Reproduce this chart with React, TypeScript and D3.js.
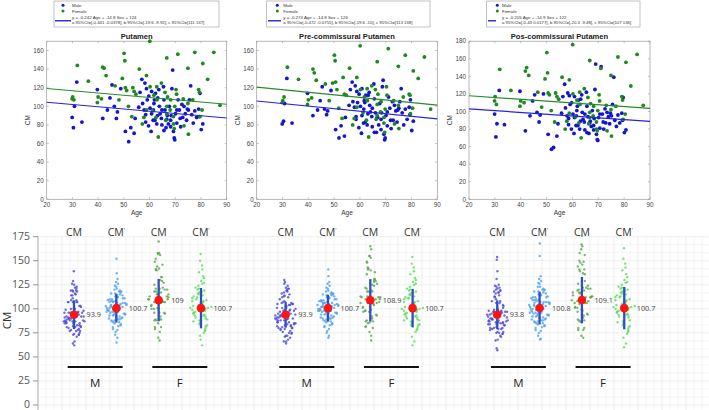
import React from 'react';
import * as d3 from 'd3';

const W = 709;
const H = 410;

// ---- regression panels -------------------------------------------------
const regionTitles = ['Putamen', 'Pre-commissural Putamen', 'Pos-commissural Putamen'];
const slopes = [-0.242, -0.274, -0.205];
const sexCoefs = [-14.8, -14.8, -14.9];
const intercepts = [124, 126, 122];
const ciLines = [
  'a 95%CI=[-0.441 -0.0378], b 95%CI=[-19.6 -9.92], c 95%CI=[111 137]',
  'a 95%CI=[-0.472 -0.0755], b 95%CI=[-19.6 -10], c 95%CI=[113 138]',
  'a 95%CI=[-0.43 0.0177], b 95%CI=[-20.3 -9.48], c 95%CI=[107 136]',
];
const yLimits = [170, 170, 180];
const ageTicks = [20, 30, 40, 50, 60, 70, 80, 90];

const maleAge = [
  29.9, 30.4, 30.8, 31.7, 33.7, 39.7, 41.8, 43.6, 44.6, 45.4,
  46.3, 47.1, 47.5, 48.8, 50.6, 51.9, 52.7, 54.0, 54.4, 55.8,
  56.3, 57.0, 57.3, 58.2, 58.8, 59.1, 59.7, 60.2, 60.8, 61.5,
  61.7, 62.1, 62.8, 63.2, 63.8, 64.1, 64.6, 64.8, 65.4, 65.6,
  66.0, 66.4, 66.9, 67.3, 67.7, 68.2, 68.7, 69.0, 69.3, 69.6,
  69.8, 70.1, 70.6, 71.1, 71.6, 72.1, 72.9, 73.4, 73.9, 74.4,
  75.1, 75.5, 76.0, 76.4, 77.0, 77.6, 78.3, 79.1, 79.6, 80.1,
  80.7, 79.4, 59.6, 60.6, 61.4, 58.5, 63.1, 64.8, 65.6, 66.7,
  68.2, 68.4, 71.9, 60.8, 62.3, 63.6, 57.9, 58.5, 61.9, 70.6,
  72.6, 74.7,
];
const femaleAge = [
  31.9, 36.2, 41.8, 42.3, 43.1, 50.1, 50.4, 49.4, 56.0, 58.8,
  60.1, 66.7, 71.0, 77.6, 80.7, 85.0, 74.9, 82.6, 87.4, 30.1,
  29.9, 30.6, 40.0, 41.3, 39.7, 46.6, 48.1, 50.6, 51.1, 51.8,
  53.5, 54.0, 54.7, 53.1, 60.2, 61.7, 62.8, 64.6, 62.9, 66.0,
  67.0, 68.2, 70.3, 70.5, 73.1, 74.9, 76.8, 79.1, 79.4, 79.6,
  80.4, 63.4, 66.3, 69.3, 69.6, 62.5, 61.2, 58.8, 57.8, 57.2,
  75.1, 73.4, 66.7, 69.3, 68.0, 66.7, 69.8,
];

const putamenMale = [
  88, 77, 100, 126, 83, 118, 87, 96, 109, 123,
  100, 87, 94, 119, 73, 62, 77, 71, 87, 99,
  115, 129, 103, 125, 119, 107, 111, 98, 92, 96,
  103, 85, 81, 109, 100, 92, 87, 80, 121, 107,
  96, 77, 90, 81, 100, 85, 119, 139, 73, 66,
  64, 92, 82, 107, 96, 78, 88, 100, 92, 85,
  96, 107, 122, 91, 82, 95, 88, 97, 114, 75,
  81, 89, 79, 73, 85, 83, 90, 96, 74, 86,
  78, 90, 87, 116, 114, 118, 96, 91, 107, 96,
  102, 97,
];
const putamenFemale = [
  144, 127, 142, 141, 133, 157, 149, 130, 140, 133,
  170, 152, 156, 158, 146, 158, 141, 129, 101, 110,
  108, 107, 110, 108, 104, 122, 107, 120, 117, 100,
  120, 116, 113, 89, 121, 112, 121, 125, 107, 115,
  110, 107, 118, 113, 108, 103, 107, 118, 115, 89,
  96, 67, 85, 81, 76, 88, 95, 96, 88, 81,
  70, 79, 92, 89, 96, 100, 100,
];
const preMale = [
  81, 84, 103, 130, 82, 114, 90, 96, 106, 121,
  97, 91, 95, 117, 75, 66, 79, 68, 88, 101,
  118, 126, 105, 122, 116, 104, 113, 100, 90, 97,
  106, 83, 80, 112, 101, 94, 89, 78, 124, 108,
  93, 72, 88, 80, 103, 86, 121, 128, 70, 64,
  66, 90, 79, 110, 98, 76, 85, 101, 95, 83,
  98, 105, 119, 93, 80, 97, 86, 99, 107, 74,
  84, 91, 77, 71, 82, 86, 92, 98, 72, 88,
  75, 93, 85, 119, 112, 115, 99, 89, 104, 94,
  105, 96,
];
const preFemale = [
  142, 129, 140, 136, 128, 155, 149, 125, 141, 131,
  165, 148, 162, 155, 138, 153, 143, 130, 97, 106,
  104, 110, 107, 109, 102, 124, 106, 126, 118, 98,
  131, 113, 112, 87, 118, 110, 119, 122, 106, 118,
  113, 105, 121, 112, 106, 101, 110, 113, 112, 92,
  98, 67, 86, 82, 72, 85, 93, 99, 87, 80,
  76, 81, 90, 88, 94, 102, 97,
];
const posMale = [
  97, 71, 86, 124, 85, 123, 78, 95, 112, 119,
  99, 88, 96, 120, 74, 57, 59, 72, 86, 98,
  117, 131, 104, 121, 118, 108, 110, 97, 93, 95,
  101, 84, 80, 114, 99, 91, 88, 79, 122, 106,
  94, 75, 89, 83, 101, 84, 125, 154, 74, 68,
  67, 93, 81, 151, 97, 80, 87, 99, 94, 86,
  95, 108, 139, 90, 83, 96, 87, 98, 116, 76,
  79, 90, 80, 75, 84, 85, 89, 97, 76, 87,
  79, 92, 88, 117, 113, 119, 95, 92, 106, 97,
  103, 98,
];
const posFemale = [
  148, 124, 146, 150, 141, 167, 144, 137, 139, 136,
  176, 158, 149, 162, 156, 165, 141, 129, 107, 117,
  112, 108, 112, 110, 106, 122, 105, 121, 119, 101,
  121, 117, 114, 88, 120, 113, 122, 126, 108, 116,
  109, 106, 119, 112, 107, 102, 106, 117, 113, 91,
  97, 70, 86, 80, 78, 87, 94, 98, 89, 80,
  72, 78, 93, 88, 95, 99, 101,
];

// age-adjusted CM' per subject
const adjMalePut = [
  108, 95, 121, 88, 102, 116, 79, 99, 104, 131,
  92, 110, 86, 100, 118, 97, 73, 106, 113, 90,
  101, 124, 84, 97, 107, 152, 94, 111, 89, 103,
  119, 98, 81, 105, 93, 114, 100, 87, 126, 96,
  109, 78, 102, 117, 91, 99, 137, 85, 104, 112,
  96, 70, 108, 101, 92, 120, 83, 106, 98, 115,
  88, 103, 65, 110, 95, 123, 99, 82, 107, 94,
  113, 101, 90, 128, 97, 104, 86, 111, 100, 93,
  118, 76, 105, 99, 108, 91, 102, 116, 89, 97,
  106, 103,
];
const adjMalePre = [
  106, 96, 119, 90, 101, 114, 81, 98, 105, 128,
  93, 109, 87, 101, 116, 98, 75, 104, 112, 91,
  102, 122, 85, 96, 108, 141, 95, 110, 90, 102,
  117, 99, 82, 106, 94, 113, 101, 88, 124, 97,
  108, 79, 103, 115, 92, 100, 134, 86, 103, 111,
  97, 72, 107, 100, 93, 118, 84, 105, 99, 114,
  89, 104, 70, 109, 96, 121, 98, 83, 106, 95,
  112, 102, 91, 126, 98, 103, 87, 110, 101, 94,
  116, 77, 104, 100, 107, 92, 101, 115, 90, 98,
  105, 102,
];
const adjMalePos = [
  110, 94, 123, 87, 103, 118, 78, 100, 106, 134,
  91, 112, 85, 99, 120, 96, 72, 107, 115, 89,
  100, 127, 83, 98, 109, 168, 93, 113, 88, 104,
  121, 97, 80, 107, 92, 116, 99, 86, 129, 95,
  111, 77, 103, 119, 90, 98, 155, 84, 105, 114,
  95, 69, 109, 102, 91, 123, 82, 107, 97, 117,
  87, 104, 68, 112, 94, 126, 100, 81, 108, 93,
  115, 100, 89, 131, 96, 105, 85, 112, 99, 92,
  120, 75, 106, 98, 109, 90, 103, 118, 88, 96,
  107, 104,
];
const adjFemalePut = [
  157, 132, 118, 96, 145, 104, 87, 126, 110, 75,
  99, 138, 92, 115, 83, 107, 150, 101, 68, 122,
  94, 112, 80, 129, 103, 90, 117, 62, 108, 97,
  134, 85, 113, 100, 121, 78, 106, 93, 141, 88,
  111, 99, 124, 82, 105, 95, 119, 72, 102, 114,
  91, 127, 86, 108, 98, 116, 77, 104, 96, 109,
  84, 101, 93, 120, 89, 106, 99,
];
const adjFemalePre = [
  154, 130, 117, 95, 143, 103, 88, 125, 111, 76,
  98, 136, 91, 114, 84, 106, 147, 100, 62, 121,
  93, 111, 81, 128, 102, 89, 116, 66, 107, 96,
  132, 86, 112, 99, 120, 79, 105, 92, 139, 87,
  110, 98, 123, 83, 104, 94, 118, 71, 101, 113,
  90, 126, 85, 107, 97, 115, 78, 103, 95, 108,
  83, 100, 92, 119, 88, 105, 98,
];
const adjFemalePos = [
  163, 133, 119, 97, 147, 105, 86, 127, 112, 74,
  100, 140, 93, 116, 82, 108, 152, 102, 60, 123,
  95, 113, 79, 130, 104, 91, 118, 64, 109, 98,
  136, 84, 114, 101, 122, 77, 107, 94, 143, 87,
  112, 100, 125, 81, 106, 96, 120, 70, 103, 115,
  92, 128, 85, 109, 99, 117, 76, 105, 97, 110,
  83, 102, 94, 121, 88, 107, 100,
];

const rawMale = [putamenMale, preMale, posMale];
const rawFemale = [putamenFemale, preFemale, posFemale];
const adjMale = [adjMalePut, adjMalePre, adjMalePos];
const adjFemale = [adjFemalePut, adjFemalePre, adjFemalePos];

// ---- group summary panel ----------------------------------------------
const columns = ['M-CM', 'M-CMp', 'F-CM', 'F-CMp'];
const meanValues = [
  [93.9, 100.7, 109, 100.7],
  [93.9, 100.7, 108.9, 100.7],
  [93.8, 100.8, 109.1, 100.7],
];
const sdValues = [
  [15, 15, 22, 21],
  [13.5, 14, 22, 20],
  [15, 17, 24, 22],
];
const sexLabels = ['M', 'F'];
const cmTicks = [0, 25, 50, 75, 100, 125, 150, 175];

// layout of the three regression panels
const topLayout = [
  { x0: 46.7, x1: 226.7, lx: 54, lw: 165, lineX: [55, 71], dotX: 63, textX: 72 },
  { x0: 256.7, x1: 437.3, lx: 266.7, lw: 163.3, lineX: [268, 281], dotX: 277.3, textX: 283.3 },
  { x0: 469, x1: 650, lx: 486.7, lw: 153.3, lineX: [488, 496], dotX: 497.3, textX: 502 },
];
const TOP_Y0 = 199.3;
const TOP_Y1 = 41.2;

const MALE = '#1414d2';
const FEMALE = '#1e8a1e';
const swarmColors = ['#4a48d8', '#4ba2ee', '#5aa84c', '#5cdc5c'];
const sansTop = 'Liberation Sans, Arial, sans-serif';
const sansBottom = 'Open Sans, Lato, sans-serif';

function ScatterPanel({ i }: { i: number }) {
  const L = topLayout[i];
  const x = d3.scaleLinear([20, 90], [L.x0, L.x1]);
  const y = d3.scaleLinear([0, yLimits[i]], [TOP_Y0, TOP_Y1]);
  const yTicks = d3.range(0, yLimits[i] + 1, 20);
  const fit = (age: number, sex: number) => intercepts[i] + slopes[i] * age + sexCoefs[i] * sex;
  const line = d3.line<number>().x((a) => x(a));
  const maleFit = line.y((a) => y(fit(a, 1)))([20, 90]) ?? '';
  const femaleFit = line.y((a) => y(fit(a, 0)))([20, 90]) ?? '';
  const eq = `y = ${slopes[i]} Age + ${sexCoefs[i]} Sex + ${intercepts[i]}`;
  return (
    <g fontFamily={sansTop}>
      {/* legend */}
      <rect x={L.lx} y={1} width={L.lw} height={26} fill="#fff" stroke="#999" strokeWidth={0.6} />
      <circle cx={L.dotX} cy={5.3} r={1.5} fill={MALE} />
      <text x={L.textX} y={7} fontSize={4.4} fill="#333">Male</text>
      <circle cx={L.dotX} cy={11} r={1.5} fill={FEMALE} />
      <text x={L.textX} y={12.6} fontSize={4.4} fill="#333">Female</text>
      <line x1={L.lineX[0]} x2={L.lineX[1]} y1={20.8} y2={20.8} stroke={MALE} strokeWidth={1.3} />
      <text x={L.textX} y={19.3} fontSize={4.4} fill="#333">{eq}</text>
      <text x={L.textX} y={24.4} fontSize={4.3} fill="#333">{ciLines[i]}</text>

      {/* title */}
      <text x={(L.x0 + L.x1) / 2} y={38.5} textAnchor="middle" fontSize={7.6} fontWeight="bold" fill="#222">
        {regionTitles[i]}
      </text>

      {/* axes box */}
      <rect x={L.x0} y={TOP_Y1} width={L.x1 - L.x0} height={TOP_Y0 - TOP_Y1} fill="#fff" stroke="#9a9a9a" strokeWidth={0.7} />
      {yTicks.map((t) => (
        <g key={`y${t}`}>
          <line x1={L.x0} x2={L.x0 + 2} y1={y(t)} y2={y(t)} stroke="#9a9a9a" strokeWidth={0.6} />
          <line x1={L.x1} x2={L.x1 - 2} y1={y(t)} y2={y(t)} stroke="#9a9a9a" strokeWidth={0.6} />
          <text x={L.x0 - 3} y={y(t) + 2.2} textAnchor="end" fontSize={6.3} fill="#444">{t}</text>
        </g>
      ))}
      {ageTicks.map((t) => (
        <g key={`x${t}`}>
          <line x1={x(t)} x2={x(t)} y1={TOP_Y0} y2={TOP_Y0 - 2} stroke="#9a9a9a" strokeWidth={0.6} />
          <line x1={x(t)} x2={x(t)} y1={TOP_Y1} y2={TOP_Y1 + 2} stroke="#9a9a9a" strokeWidth={0.6} />
          <text x={x(t)} y={207} textAnchor="middle" fontSize={6.3} fill="#444">{t}</text>
        </g>
      ))}
      <text x={(L.x0 + L.x1) / 2} y={215} textAnchor="middle" fontSize={6.5} fill="#333">Age</text>
      <text transform={`translate(${L.x0 - 17},${(TOP_Y0 + TOP_Y1) / 2}) rotate(-90)`} textAnchor="middle" fontSize={6.5} fill="#333">CM</text>

      {/* subjects */}
      {rawMale[i].map((v, k) => (
        <circle key={`m${k}`} cx={x(maleAge[k])} cy={y(v)} r={1.9} fill={MALE} />
      ))}
      {rawFemale[i].map((v, k) => (
        <circle key={`f${k}`} cx={x(femaleAge[k])} cy={y(v)} r={1.9} fill={FEMALE} />
      ))}
      <path d={femaleFit} stroke="#2a8a2a" strokeWidth={1.2} fill="none" />
      <path d={maleFit} stroke="#2424dc" strokeWidth={1.2} fill="none" />
    </g>
  );
}

// violin-shaped horizontal spread from a gaussian density estimate
function spread(vals: number[], bw: number, maxW: number) {
  const dens = vals.map((v) => d3.sum(vals, (u) => Math.exp(-0.5 * ((v - u) / bw) ** 2)));
  const top = d3.max(dens) ?? 1;
  return vals.map((v, k) => {
    const u = 2 * ((k * 0.618034 + 0.31) % 1) - 1;
    return (maxW * dens[k] / top) * u;
  });
}

function SummaryPanel() {
  const y = d3.scaleLinear([0, 175], [405, 236.7]);
  const regionX = d3.scalePoint<number>().domain([0, 1, 2]).range([137.5, 560.75]);
  const colX = d3.scalePoint<string>().domain(columns).range([-63.5, 63.5]);
  const gridTop = y(175);
  const gridStepY = y(0) - y(25 / 3);
  const hLines = d3.range(0, 21 + 1).map((k) => y(0) - k * gridStepY);
  const vLines = d3.range(38, W + 1, 8);
  return (
    <g fontFamily={sansBottom}>
      {vLines.map((gx, k) => (
        <line key={`v${k}`} x1={gx} x2={gx} y1={gridTop} y2={H} stroke={k % 3 === 0 ? '#e2e2e2' : '#eeeeee'} strokeWidth={0.6} />
      ))}
      {hLines.map((gy, k) => (
        <line key={`h${k}`} x1={38} x2={W} y1={gy} y2={gy} stroke={k % 3 === 0 ? '#e2e2e2' : '#eeeeee'} strokeWidth={0.6} />
      ))}
      <line x1={38} x2={38} y1={gridTop} y2={H} stroke="#9a9a9a" strokeWidth={0.7} />
      {cmTicks.map((t) => (
        <g key={t}>
          <line x1={33} x2={38} y1={y(t)} y2={y(t)} stroke="#777" strokeWidth={0.8} />
          <text x={30} y={y(t) + 3.4} textAnchor="end" fontSize={10.5} fill="#555">{t}</text>
        </g>
      ))}
      <text transform={`translate(11,${y(88)}) rotate(-90)`} textAnchor="middle" fontSize={11.5} fill="#333">CM</text>

      {[0, 1, 2].map((r) => {
        const cx0 = regionX(r) ?? 0;
        const groups = [rawMale[r], adjMale[r], rawFemale[r], adjFemale[r]];
        return (
          <g key={r}>
            {columns.map((c, ci) => {
              const cx = cx0 + (colX(c) ?? 0);
              const vals = groups[ci];
              const dx = spread(vals, 7, 11);
              const m = meanValues[r][ci];
              const sd = sdValues[r][ci];
              return (
                <g key={c}>
                  <text x={cx} y={236} textAnchor="middle" fontSize={10.5} fill="#333">
                    CM{ci % 2 === 1 && <tspan fontSize={6} dy={-4}>'</tspan>}
                  </text>
                  {vals.map((v, k) => (
                    <circle key={k} cx={cx + dx[k]} cy={y(v)} r={1.2} fill={swarmColors[ci]} fillOpacity={0.8} />
                  ))}
                  <line x1={cx} x2={cx} y1={y(m + sd)} y2={y(m - sd)} stroke="#2e4fc4" strokeWidth={2.3} />
                  <circle cx={cx} cy={y(m)} r={4.3} fill="#ff1414" />
                  <text x={cx + 12.5} y={y(m) + 2.5} fontSize={7.3} fill="#444">{m}</text>
                </g>
              );
            })}
            {sexLabels.map((s, si) => {
              const a = cx0 + (colX(columns[si * 2]) ?? 0);
              const b = cx0 + (colX(columns[si * 2 + 1]) ?? 0);
              const mid = (a + b) / 2;
              return (
                <g key={s}>
                  <line x1={mid - 27.5} x2={mid + 27.5} y1={y(39.5)} y2={y(39.5)} stroke="#111" strokeWidth={2} />
                  <text x={mid} y={387} textAnchor="middle" fontSize={11.5} fill="#222">{s}</text>
                </g>
              );
            })}
          </g>
        );
      })}
    </g>
  );
}

export default function App() {
  return (
    <svg
      width={W}
      height={H}
      viewBox={`0 0 ${W} ${H}`}
      style={{ position: 'absolute', left: 0, top: 0, background: '#fff' }}
    >
      <rect width={W} height={H} fill="#fff" />
      {[0, 1, 2].map((i) => (
        <ScatterPanel key={i} i={i} />
      ))}
      <SummaryPanel />
    </svg>
  );
}
